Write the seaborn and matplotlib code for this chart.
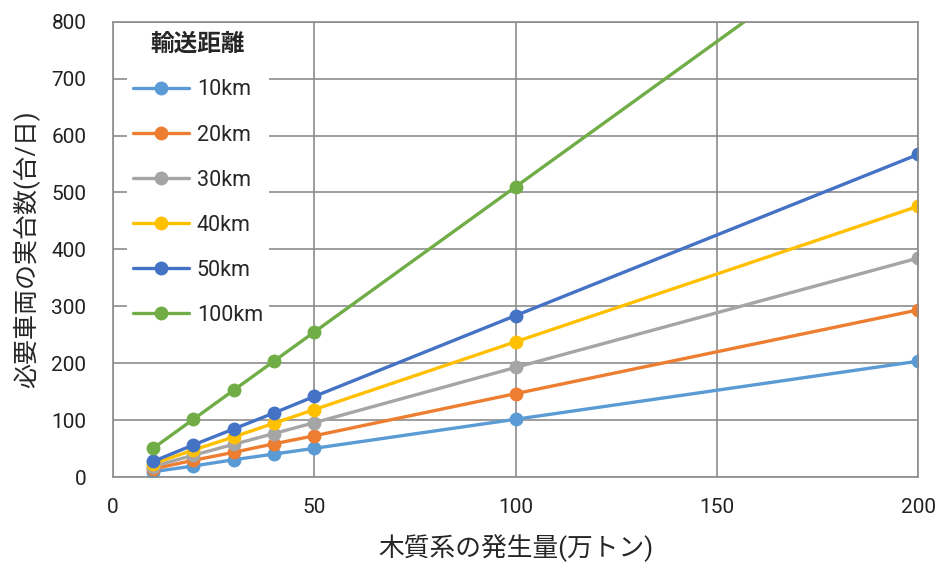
import matplotlib
matplotlib.use('Agg')
import matplotlib.pyplot as plt
import pandas as pd
import seaborn as sns

# 木質系の発生量 (万トン)
amounts = [10, 20, 30, 40, 50, 100, 200]
distances = ['10km', '20km', '30km', '40km', '50km', '100km']
trucks_10km = [10, 20, 31, 41, 51, 102, 204]
trucks_20km = [15, 30, 44, 59, 73, 147, 294]
trucks_30km = [19, 39, 58, 77, 96, 193, 385]
trucks_40km = [24, 48, 71, 95, 119, 238, 476]
trucks_50km = [28, 57, 85, 113, 142, 284, 567]
trucks_100km = [51, 102, 153, 204, 255, 510, 1020]
colors = ['#5B9BD5', '#ED7D31', '#A5A5A5', '#FFC000', '#4472C4', '#70AD47']

series = [trucks_10km, trucks_20km, trucks_30km, trucks_40km, trucks_50km, trucks_100km]
df = pd.concat([pd.DataFrame({'amount': amounts, 'trucks': vals, 'distance': d})
                for d, vals in zip(distances, series)], ignore_index=True)

sns.set_style('white')
plt.rcParams['font.family'] = ['Roboto', 'Noto Sans CJK JP', 'DejaVu Sans']

fig, ax = plt.subplots(figsize=(9.4, 5.67), dpi=100)
sns.lineplot(data=df, x='amount', y='trucks', hue='distance', hue_order=distances,
             palette=colors, marker='o', markersize=10, markeredgewidth=0,
             linewidth=2.4, ax=ax)

ax.set_xlim(0, 200)
ax.set_ylim(0, 800)
ax.set_xticks([0, 50, 100, 150, 200])
ax.set_yticks(range(0, 801, 100))
ax.grid(True, color='#8C8C8C', linewidth=1.2)
ax.set_axisbelow(True)
for s in ax.spines.values():
    s.set_color('#8C8C8C')
    s.set_linewidth(1.2)
ax.tick_params(axis='both', labelsize=15, length=0)
ax.tick_params(axis='y', pad=19)
ax.tick_params(axis='x', pad=15)
for lab in ax.get_xticklabels() + ax.get_yticklabels():
    lab.set_color('#222222')
ax.set_xlabel('木質系の発生量(万トン)', fontsize=18.5, labelpad=12)
ax.set_ylabel('必要車両の実台数(台/日)', fontsize=18, labelpad=8)

leg = ax.legend(title='輸送距離', loc='upper left', bbox_to_anchor=(0.012, 1.0),
                fontsize=15.5, title_fontsize=17, frameon=True, framealpha=1,
                edgecolor='white', labelspacing=1.12, handlelength=2.6,
                handletextpad=0.35, borderaxespad=0.2, borderpad=0.3)
leg.get_frame().set_linewidth(0)
leg.get_title().set_fontweight('bold')

fig.subplots_adjust(left=0.12, right=0.977, top=0.962, bottom=0.158)
fig.savefig('out.png', dpi=100)
